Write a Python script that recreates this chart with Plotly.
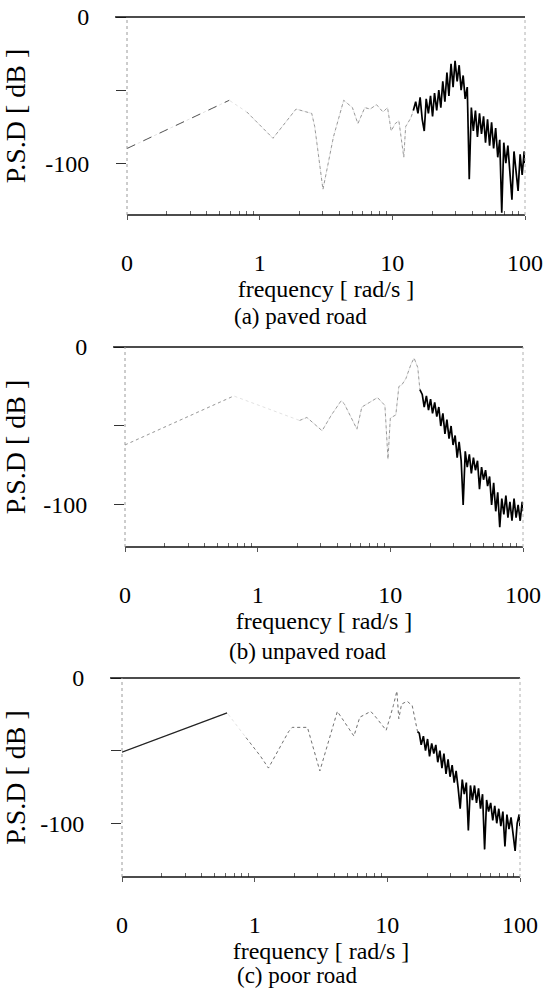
import plotly.graph_objects as go

# ---------------- data ----------------
tick_vals = [0.1, 1, 10, 100]
tick_text = ["0", "1", "10", "100"]
minor_vals = [0.2, 0.3, 0.4, 0.5, 0.6, 0.7, 0.8, 0.9, 2, 3, 4, 5, 6, 7, 8, 9,
              20, 30, 40, 50, 60, 70, 80, 90]
y_tick_vals = [0, -50, -100]
y_tick_text = ["0", "", "-100"]

# (a) paved road
freq_low_a = [0.1, 0.59]
psd_low_a = [-90, -57]
freq_mid_a = [0.8, 1.26, 1.88, 2.47, 2.6, 3.0, 3.6, 4.3, 5.0, 5.5, 6.2, 6.8, 7.6,
              8.5, 9.2, 9.8, 10.5, 11.2, 12.2, 12.6, 13.8, 14.4]
psd_mid_a = [-65, -83, -63, -66, -75, -118, -82, -57, -62, -73, -62, -63, -60,
             -65, -62, -78, -73, -71, -96, -75, -69, -64]
freq_hi_a = [15.0, 15.6, 16.2, 16.8, 17.4, 18.0, 18.7, 19.4, 20.1, 20.8,
             21.6, 22.4, 23.2, 24.0, 24.9, 25.8, 26.7, 27.7, 28.7, 29.7,
             30.8, 31.9, 33.0, 34.2, 35.4, 36.7, 38.0, 39.4, 40.8, 42.3,
             43.8, 45.4, 47.0, 48.7, 50.4, 52.2, 54.1, 56.0, 58.0, 60.1,
             62.3, 64.5, 66.8, 69.2, 71.7, 74.3, 77.0, 79.7, 82.6, 85.6,
             88.7, 91.9, 95.2, 98.6, 100]
psd_hi_a = [-58, -66, -55, -70, -78, -56, -66, -54, -68, -52,
            -64, -50, -62, -44, -58, -38, -54, -32, -48, -30,
            -44, -33, -50, -40, -56, -48, -111, -62, -78, -64,
            -82, -66, -80, -68, -86, -70, -88, -72, -90, -76,
            -96, -84, -134, -86, -100, -88, -104, -125, -92, -106,
            -119, -94, -108, -92, -100]

# (b) unpaved road
freq_low_b = [0.1, 0.66]
psd_low_b = [-62, -31]
freq_mid_b = [2.07, 2.35, 3.06, 3.6, 4.26, 4.5, 5.6, 6.1, 7.0, 8.0, 9.1, 9.6,
              10.0, 11.0, 11.6, 12.2, 13.1, 14.3, 15.1, 16.1, 16.7]
psd_mid_b = [-46.5, -44.6, -53, -43, -34, -36, -52, -38, -35, -32, -37, -71,
             -45, -43, -25, -24, -20, -11, -7, -13, -27]
freq_hi_bc = [17.4, 18.0, 18.7, 19.4, 20.1, 20.8,
              21.6, 22.4, 23.2, 24.0, 24.9, 25.8, 26.7, 27.7, 28.7, 29.7,
              30.8, 31.9, 33.0, 34.2, 35.4, 36.7, 38.0, 39.4, 40.8, 42.3,
              43.8, 45.4, 47.0, 48.7, 50.4, 52.2, 54.1, 56.0, 58.0, 60.1,
              62.3, 64.5, 66.8, 69.2, 71.7, 74.3, 77.0, 79.7, 82.6, 85.6,
              88.7, 91.9, 95.2, 98.6, 100]
psd_hi_b = [-30, -38, -31, -40, -33, -42, -35, -44, -38, -50,
            -42, -55, -46, -58, -50, -62, -56, -70, -60, -72,
            -100, -66, -76, -68, -80, -70, -78, -72, -90, -76,
            -84, -78, -88, -82, -100, -86, -104, -92, -114, -96,
            -106, -94, -108, -98, -110, -96, -108, -100, -110, -98,
            -104]

# (c) poor road
freq_low_c = [0.1, 0.62]
psd_low_c = [-51, -24]
freq_mid_c = [0.86, 1.11, 1.27, 1.8, 1.92, 2.5, 3.1, 4.2, 5.6, 6.2, 7.5, 8.2,
              9.8, 10.6, 11.1, 11.8, 12.2, 12.8, 14.1, 15.4, 16.9]
psd_mid_c = [-41, -54, -62, -37, -34, -34, -64, -23, -40, -27, -23, -27,
             -36, -26, -19, -9, -28, -18, -16, -19, -37]
psd_hi_c = [-38, -46, -40, -50, -42, -54, -45, -52, -46, -58,
            -50, -62, -52, -66, -56, -68, -60, -72, -64, -76,
            -90, -70, -80, -72, -105, -74, -84, -74, -86, -76,
            -90, -80, -118, -84, -92, -86, -98, -88, -100, -90,
            -102, -92, -116, -94, -104, -96, -108, -119, -100, -94,
            -102]

captions = ["(a) paved road", "(b) unpaved road", "(c) poor road"]
x_title = "frequency [ rad/s ]"
y_title = "P.S.D [ dB ]"

panels = [
    (freq_low_a, psd_low_a, freq_mid_a, psd_mid_a, freq_hi_a, psd_hi_a),
    (freq_low_b, psd_low_b, freq_mid_b, psd_mid_b, freq_hi_bc, psd_hi_b),
    (freq_low_c, psd_low_c, freq_mid_c, psd_mid_c, freq_hi_bc, psd_hi_c),
]

# ---------------- layout geometry (pixels) ----------------
W, H = 548, 990
geom = [  # left, right, top(0 dB), bottom, ymin
    (127, 525, 17, 215, -135.5),
    (125, 523, 347, 547, -126.6),
    (122, 520, 678, 877, -137),
]
caption_pos = [(300, 317), (308, 651), (297, 975)]
low_style = [dict(color="#555555", width=1, dash="dash"),
             dict(color="#a0a0a0", width=1, dash="dot"),
             dict(color="#222222", width=1.2)]
mid_style = [dict(color="#999999", width=1, dash="dot"),
             dict(color="#999999", width=1, dash="dot"),
             dict(color="#777777", width=1, dash="dot")]

SERIF = "Liberation Serif, Times New Roman, serif"
fig = go.Figure()

for i, (fl, pl, fm, pm, fh, ph) in enumerate(panels):
    xa = "x" if i == 0 else f"x{i+1}"
    ya = "y" if i == 0 else f"y{i+1}"
    full_f = fl + fm + fh
    full_p = pl + pm + ph
    fig.add_trace(go.Scatter(x=full_f, y=full_p, mode="lines", xaxis=xa, yaxis=ya,
                             line=dict(color="#dadada", width=0.8, dash="dot"),
                             hoverinfo="skip"))
    fig.add_trace(go.Scatter(x=fl, y=pl, mode="lines", xaxis=xa, yaxis=ya,
                             line=low_style[i]))
    fig.add_trace(go.Scatter(x=fm, y=pm, mode="lines", xaxis=xa, yaxis=ya,
                             line=mid_style[i]))
    fig.add_trace(go.Scatter(x=[fm[-1]] + fh, y=[pm[-1]] + ph, mode="lines",
                             xaxis=xa, yaxis=ya,
                             line=dict(color="#000000", width=1.7)))

    left, right, top, bottom, ymin = geom[i]
    xkey = "xaxis" if i == 0 else f"xaxis{i+1}"
    ykey = "yaxis" if i == 0 else f"yaxis{i+1}"
    fig.update_layout(**{
        xkey: dict(
            type="log", range=[-1, 2], domain=[left / W, right / W],
            anchor=ya, automargin=False,
            tickmode="array", tickvals=tick_vals, ticktext=tick_text,
            ticks="outside", ticklen=4, tickcolor="#555555", tickwidth=1,
            ticklabelstandoff=22,
            minor=dict(tickmode="array", tickvals=minor_vals, ticks="inside",
                       ticklen=4, tickcolor="#666666"),
            showgrid=False, zeroline=False, showline=False,
            tickfont=dict(family=SERIF, size=24, color="#000"),
            title=dict(text=x_title, standoff=5,
                       font=dict(family=SERIF, size=24, color="#000")),
        ),
        ykey: dict(
            range=[ymin, 0], domain=[1 - bottom / H, 1 - top / H],
            anchor=xa, automargin=False,
            tickmode="array", tickvals=y_tick_vals, ticktext=y_tick_text,
            ticks="outside", ticklen=10, tickcolor="#333333", tickwidth=1,
            ticklabelstandoff=22,
            showgrid=False, zeroline=False, showline=False,
            tickfont=dict(family=SERIF, size=24, color="#000"),
            title=dict(text=y_title, standoff=16,
                       font=dict(family=SERIF, size=28, color="#000")),
        ),
    })
    # frame: solid top/bottom, faint dotted left/right
    xd = "x domain" if i == 0 else f"x{i+1} domain"
    yd = "y domain" if i == 0 else f"y{i+1} domain"
    fig.add_shape(type="line", xref=xd, yref=yd, x0=-0.03, x1=1.0, y0=1, y1=1,
                  line=dict(color="#111111", width=1.6))
    fig.add_shape(type="line", xref=xd, yref=yd, x0=0, x1=1.0, y0=0, y1=0,
                  line=dict(color="#111111", width=1.6))
    fig.add_shape(type="line", xref=xd, yref=yd, x0=0, x1=0, y0=0, y1=1,
                  line=dict(color="#9a9a9a", width=1, dash="dot"))
    fig.add_shape(type="line", xref=xd, yref=yd, x0=1, x1=1, y0=0, y1=1,
                  line=dict(color="#b0b0b0", width=1, dash="dot"))
    cx, cy = caption_pos[i]
    fig.add_annotation(text=captions[i], x=cx / W, y=1 - cy / H,
                       xref="paper", yref="paper", showarrow=False,
                       xanchor="center", yanchor="middle",
                       font=dict(family=SERIF, size=23, color="#000"))

fig.update_layout(width=W, height=H, margin=dict(l=0, r=0, t=0, b=0),
                  paper_bgcolor="white", plot_bgcolor="white", showlegend=False)

# remove the page's default body margin so the figure fills the window exactly
fig.write_html("out.html", config={"displayModeBar": False},
               post_script="document.body.style.margin='0px';")
